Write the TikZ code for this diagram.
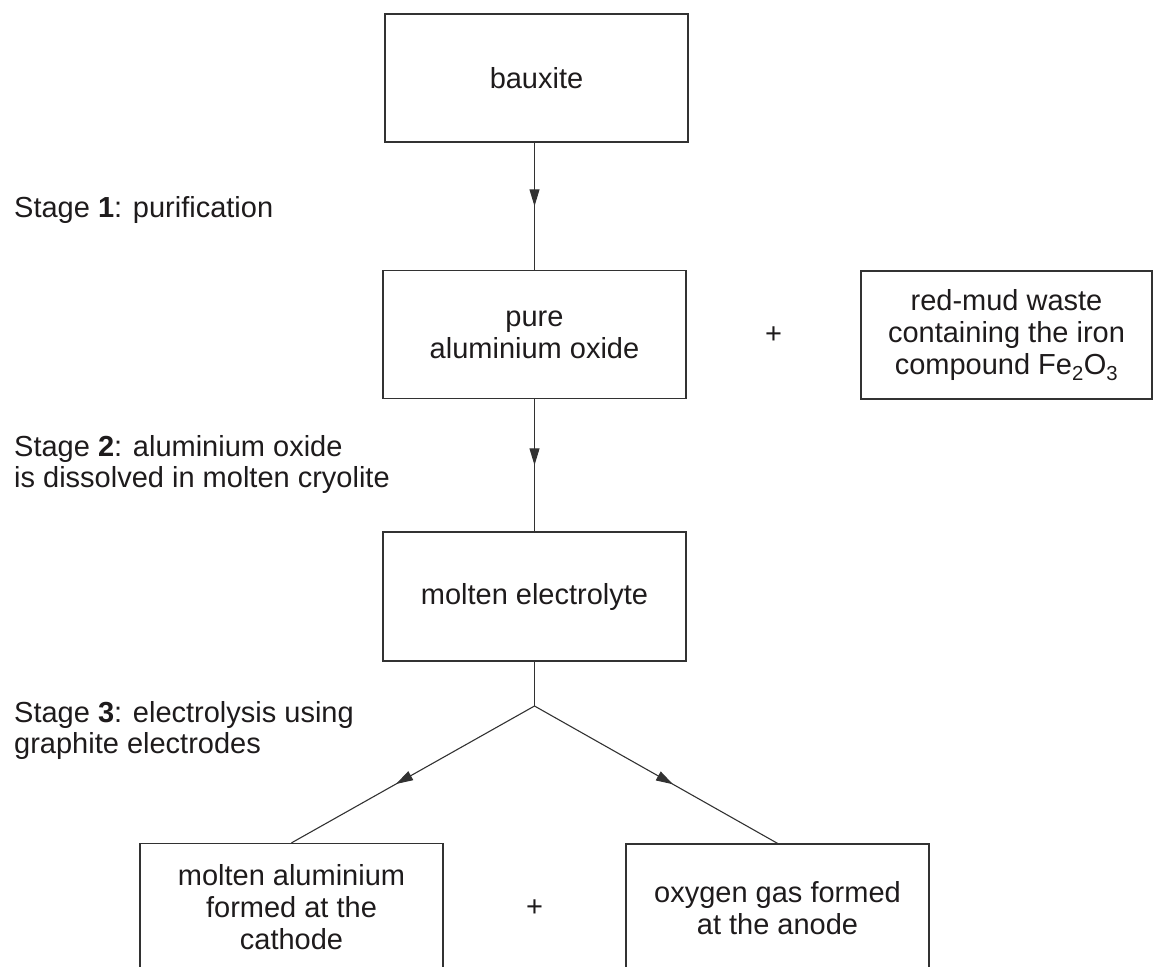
\documentclass[tikz,border=0pt]{standalone}
\usepackage{fontspec}
\setmainfont{Liberation Sans}
\usepackage{tikz}
\usepackage{xcolor}
\usetikzlibrary{arrows.meta,positioning,calc,decorations.markings}
\definecolor{inkgray}{RGB}{30,27,28}
\definecolor{linegray}{RGB}{50,50,50}

\begin{document}
\begin{tikzpicture}[x=1pt,y=-1pt,
    every node/.style={text=inkgray, font=\fontsize{29}{32}\selectfont},
    stagebox/.style={rectangle, draw=linegray, line width=1.3pt, align=center,
                     minimum width=303pt, minimum height=128pt, inner sep=0pt},
    stagelabel/.style={anchor=base west, align=left, inner sep=0pt,
                       font=\fontsize{29}{30.5}\selectfont},
    midarrow/.style={draw=linegray, line width=1.1pt, postaction={decorate},
                     decoration={markings, mark=at position #1 with
                     {\arrow{Triangle[length=17pt,width=10pt]}}}}]
    \useasboundingbox (0,0) rectangle (1153,966);
    \clip (0,0) rectangle (1153,966);
    % main flow
    \node[stagebox] (bauxite) at (536.5,78) {bauxite};
    \node[stagebox] (pure) at (534.5,334.5) {pure\\aluminium oxide};
    \node[stagebox, minimum width=291pt] (redmud) at (1006.5,335)
        {red-mud waste\\containing the iron\\compound Fe\textsubscript{2}O\textsubscript{3}};
    \node (plusA) at (773.5,335) {+};
    \node[stagebox, minimum height=129pt] (electrolyte) at (534.5,596.5) {molten electrolyte};
    \node[stagebox] (aluminium) at (291.5,907.5) {molten aluminium\\formed at the\\cathode};
    \node[stagebox] (oxygen) at (777.5,908) {oxygen gas formed\\at the anode};
    \node (plusB) at (534.5,908) {+};
    % stage labels
    \node[stagelabel] (stageA) at (14,217) {Stage \textbf{1}: purification};
    \node[stagelabel] (stageB) at (14,487) {Stage \textbf{2}: aluminium oxide\\is dissolved in molten cryolite};
    \node[stagelabel] (stageC) at (14,753) {Stage \textbf{3}: electrolysis using\\graphite electrodes};
    % connectors
    \coordinate (split) at (534.5,706);
    \path[midarrow=0.5] (pure.north |- bauxite.south) -- (pure.north);
    \path[midarrow=0.5] (pure.south) -- (electrolyte.north);
    \draw[linegray, line width=1.1pt] (electrolyte.south) -- (split);
    \path[midarrow=0.57] (split) -- (aluminium.north);
    \path[midarrow=0.57] (split) -- (oxygen.north);
\end{tikzpicture}
\end{document}
